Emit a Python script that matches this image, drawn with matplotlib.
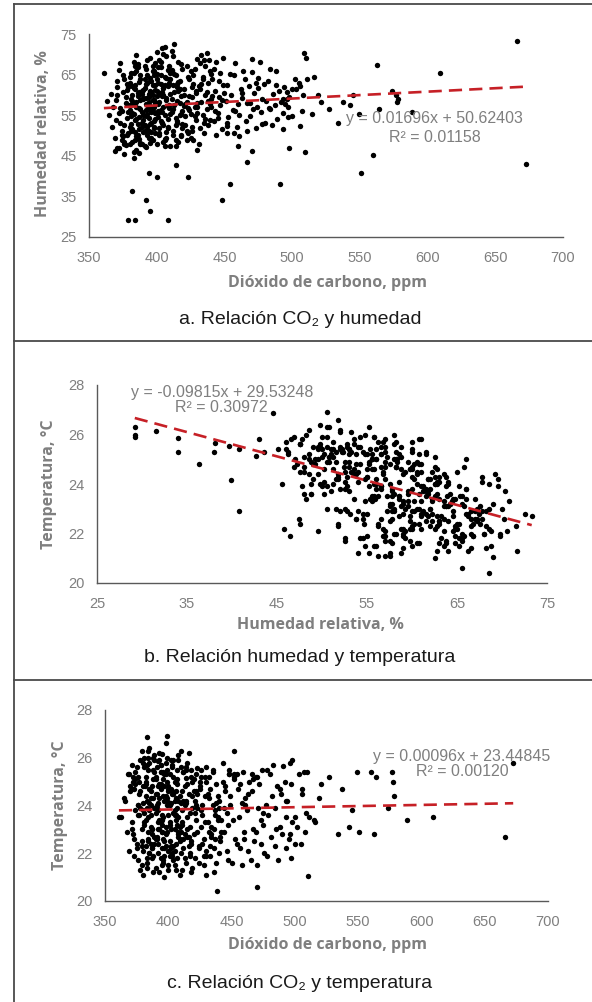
import numpy as np
import matplotlib
matplotlib.use('Agg')
import matplotlib.pyplot as plt
from matplotlib.lines import Line2D

W, H = 592, 1002

# sparse points (outliers, low humidity, high CO2): co2 ppm, humidity %, temperature C
co2_sparse = [379, 384, 408, 395, 392, 448, 381.5, 454, 491, 423,
              400, 394, 414, 466.5, 383, 387, 430, 460, 470, 371,
              452, 452, 493, 438.7, 470, 361, 406,
              496, 497, 498, 500, 500, 502, 503, 505, 505.6, 506,
              507, 508, 508.5, 509.5, 510, 511, 515, 516, 519, 521,
              527, 534, 537.5, 543, 545, 549, 551, 560, 562.5, 564.5,
              573.5, 576.5, 577.5, 578, 588.5, 609, 666, 672.5]
hum_sparse = [29.2, 29.2, 29.2, 31.5, 34.0, 34.0, 36.3, 38.0, 38.1, 39.7,
              39.9, 40.8, 42.7, 43.5, 44.5, 45.8, 46.4, 47.4, 46.2, 46.9,
              52.3, 50.6, 51.5, 68.6, 65.6, 65.3, 71.7,
              59.0, 57.0, 46.9, 61.5, 54.7, 64.0, 61.5, 63.0, 52.4, 62.2,
              56.0, 60.0, 70.3, 46.0, 69.0, 63.9, 55.3, 64.4, 60.0, 58.3,
              56.6, 53.1, 58.2, 57.5, 60.0, 55.3, 40.8, 45.1, 67.4, 56.6,
              61.0, 60.0, 58.3, 59.0, 55.9, 65.5, 73.3, 43.0]
temp_sparse = [26.3, 26.0, 25.9, 26.15, 25.85, 25.3, 24.8, 25.3, 25.65, 25.55,
               24.15, 25.4, 25.15, 25.3, 26.85, 22.2, 21.9, 22.6, 25.2, 24.7,
               25.3, 26.3, 24.2, 20.4, 20.6, 23.5, 21.3,
               22.8, 24.9, 25.9, 23.5, 22.4, 23.1, 25.3, 22.4, 24.7, 24.5,
               25.4, 22.9, 23.7, 25.4, 21.05, 23.5, 23.4, 23.3, 24.3, 24.9,
               25.2, 22.8, 24.7, 23.1, 23.8, 25.4, 22.9, 25.4, 22.8, 25.2,
               23.9, 25.4, 25.0, 24.4, 23.4, 23.5, 22.7, 25.8]

# main cluster, read band by band along CO2
co2_dense = [
    363, 366, 368, 369, 370, 371, 372, 372, 373, 374,
    374, 375, 375, 376, 376, 377, 377, 378, 378, 379,
    365, 367, 370, 371, 373, 374, 375, 376, 378, 379,
    369, 372, 373, 376, 377, 379, 380, 380, 371, 374,
    380, 381, 381, 382, 382, 383, 383, 384, 384, 385,
    385, 385, 386, 386, 387, 387, 388, 388, 389, 389,
    380, 381, 382, 383, 384, 385, 386, 387, 388, 389,
    381, 382, 383, 384, 385, 386, 387, 388, 389, 390,
    380, 382, 384, 386, 388, 383, 385, 387, 389, 381,
    390, 391, 391, 392, 392, 393, 393, 394, 394, 395,
    395, 395, 396, 396, 397, 397, 398, 398, 399, 399,
    390, 391, 392, 393, 394, 395, 396, 397, 398, 399,
    391, 392, 393, 394, 396, 397, 398, 399, 400, 400,
    390, 392, 394, 396, 398, 391, 393, 395, 397, 399,
    390, 393, 395, 398, 400, 392, 394, 396, 397, 399,
    400, 401, 401, 402, 402, 403, 403, 404, 404, 405,
    405, 405, 406, 406, 407, 407, 408, 408, 409, 409,
    400, 401, 402, 403, 404, 405, 406, 407, 408, 409,
    401, 402, 403, 404, 406, 407, 408, 410, 410, 405,
    400, 402, 404, 406, 408, 401, 403, 405, 407, 409,
    410, 411, 411, 412, 412, 413, 413, 414, 414, 415,
    415, 416, 416, 417, 417, 418, 418, 419, 419, 420,
    410, 411, 412, 413, 414, 415, 416, 417, 418, 419,
    411, 413, 415, 417, 419, 412, 414, 416, 418, 420,
    420, 421, 422, 422, 423, 424, 424, 425, 426, 426,
    427, 427, 428, 428, 429, 429, 430, 421, 423, 425,
    422, 424, 426, 428, 430, 425, 427, 429, 421, 423,
    430, 431, 432, 433, 433, 434, 435, 436, 436, 437,
    437, 438, 438, 439, 439, 440, 431, 432, 434, 435,
    433, 436, 438, 440, 432, 435, 437, 439, 430, 434,
    440, 441, 442, 443, 444, 445, 446, 447, 448, 449,
    441, 443, 444, 446, 447, 449, 450, 442, 445, 448,
    451, 452, 453, 455, 456, 457, 458, 459, 460, 461,
    462, 463, 464, 465, 466, 467, 468, 469, 470, 471,
    472, 473, 474, 475, 476, 477, 478, 479, 480, 481,
    482, 483, 484, 485, 486, 487, 488, 489, 490, 492,
    493, 494, 495, 496, 497, 498, 454, 461, 467, 475,
    452, 458, 463, 469, 473, 478, 484, 488, 493, 457,
    # extra: dry-warm and humid-cool parts of the cluster
    376, 378, 380, 382, 384, 386, 388, 390, 392, 394,
    396, 398, 400, 402, 404, 406, 408, 410, 412, 414,
    379, 383, 387, 391, 395, 399, 403, 407, 411, 415,
    418, 422, 426, 385, 389, 393, 397, 401, 405, 409]
hum_dense = [
    58.5, 60.2, 57.0, 49.5, 53.8, 62.0, 55.5, 47.0, 67.8, 51.2,
    56.0, 60.8, 49.8, 64.0, 52.5, 59.5, 47.6, 54.2, 62.8, 50.5,
    55.0, 52.0, 58.8, 63.5, 56.8, 50.0, 65.0, 45.5, 61.2, 57.6,
    46.2, 66.2, 53.0, 48.0, 58.0, 55.8, 63.0, 52.0, 60.0, 48.8,
    57.5, 52.8, 65.5, 48.5, 60.0, 55.2, 68.2, 50.8, 62.5, 58.2,
    46.5, 54.0, 66.8, 59.8, 51.5, 63.2, 56.5, 48.0, 61.0, 53.2,
    64.5, 59.0, 55.5, 61.8, 53.8, 57.0, 67.5, 49.2, 58.8, 55.8,
    51.0, 62.2, 57.8, 67.0, 49.8, 60.5, 54.5, 64.8, 52.2, 59.2,
    56.2, 58.5, 61.5, 50.2, 63.8, 46.0, 66.0, 56.8, 47.8, 54.8,
    55.0, 61.8, 52.5, 66.5, 57.8, 50.0, 63.0, 54.2, 59.5, 48.2,
    57.2, 64.2, 53.0, 60.8, 56.0, 67.2, 51.8, 58.8, 62.5, 55.5,
    59.0, 47.5, 54.8, 68.5, 56.5, 61.0, 50.8, 65.8, 53.5, 58.0,
    63.8, 56.2, 52.0, 60.2, 57.0, 49.0, 66.0, 54.0, 70.5, 59.8,
    53.8, 62.8, 58.2, 55.8, 64.8, 51.2, 57.5, 69.0, 60.0, 50.5,
    61.2, 55.2, 52.8, 57.0, 65.2, 59.2, 49.5, 63.5, 62.5, 67.8,
    58.0, 54.5, 63.0, 50.2, 60.5, 66.8, 56.2, 71.5, 53.0, 61.8,
    57.0, 48.5, 64.5, 55.0, 59.2, 69.5, 52.0, 62.2, 56.8, 67.0,
    61.0, 57.8, 51.8, 65.0, 55.8, 60.0, 48.8, 58.8, 54.0, 63.8,
    56.0, 68.5, 53.5, 59.8, 62.5, 50.8, 57.2, 65.5, 55.2, 52.5,
    64.0, 58.2, 60.8, 47.5, 66.2, 55.5, 62.8, 70.0, 49.5, 57.5,
    60.2, 55.8, 66.0, 51.0, 62.5, 72.5, 57.5, 49.0, 64.8, 58.5,
    53.5, 68.2, 61.0, 55.0, 63.5, 50.2, 59.8, 66.5, 52.8, 57.2,
    64.0, 70.8, 56.5, 60.8, 54.2, 62.0, 48.5, 58.0, 67.5, 51.8,
    59.0, 65.2, 53.0, 61.5, 56.0, 69.5, 47.5, 63.2, 55.2, 60.0,
    61.5, 54.8, 67.0, 58.2, 50.5, 63.8, 56.2, 65.8, 52.0, 59.5,
    62.8, 48.8, 57.0, 66.5, 53.8, 60.5, 68.8, 57.8, 64.5, 55.2,
    51.2, 59.8, 62.0, 54.8, 58.0, 49.5, 65.0, 61.0, 52.5, 56.8,
    55.5, 62.2, 51.8, 69.8, 58.2, 64.5, 53.0, 67.2, 60.0, 56.5,
    70.2, 52.5, 63.0, 57.8, 66.0, 59.0, 48.0, 61.5, 55.0, 68.5,
    62.8, 54.0, 58.5, 65.2, 67.8, 50.5, 60.8, 53.8, 57.0, 63.8,
    57.0, 64.0, 53.5, 61.0, 68.2, 55.5, 59.5, 65.5, 51.5, 62.5,
    59.8, 56.0, 50.0, 63.5, 57.5, 69.2, 60.5, 66.5, 54.2, 58.8,
    58.5, 62.5, 54.5, 60.0, 56.2, 64.8, 67.8, 52.0, 57.8, 55.0,
    61.5, 59.2, 66.0, 63.8, 53.5, 58.0, 62.2, 54.8, 68.8, 56.5,
    60.5, 51.8, 57.0, 64.2, 68.0, 55.8, 59.0, 62.8, 53.2, 58.5,
    63.5, 56.8, 66.5, 52.5, 60.2, 57.5, 65.8, 54.0, 61.0, 58.2,
    55.5, 62.0, 57.8, 60.8, 54.5, 59.5, 65.2, 49.8, 51.2, 61.8,
    53.0, 56.0, 60.5, 58.0, 63.0, 52.8, 56.5, 62.5, 59.0, 50.5,
    48.5, 50.2, 47.8, 51.5, 49.0, 52.8, 48.2, 50.8, 47.2, 51.2,
    49.5, 52.2, 48.0, 50.5, 53.2, 49.2, 51.8, 47.5, 50.0, 52.5,
    62.0, 65.5, 60.8, 67.2, 63.5, 61.2, 68.0, 64.2, 66.2, 62.8,
    49.8, 48.8, 51.0, 69.8, 60.2, 64.8, 58.8, 66.8, 61.8, 63.0]
temp_dense = [
    23.5, 24.2, 25.3, 22.1, 24.8, 23.0, 25.2, 25.0, 22.6, 25.4,
    23.8, 22.4, 25.6, 24.0, 21.7, 23.6, 24.5, 25.9, 21.3, 23.0,
    24.3, 22.9, 24.6, 23.3, 21.9, 25.1, 22.2, 24.0, 23.9, 22.5,
    25.3, 22.8, 24.7, 23.6, 25.0, 21.5, 24.1, 23.8, 25.7, 24.9,
    24.8, 25.6, 23.2, 24.4, 22.3, 23.9, 21.4, 26.3, 23.5, 22.0,
    25.8, 24.1, 22.4, 24.6, 23.0, 21.8, 25.5, 25.1, 22.7, 26.1,
    22.1, 23.3, 25.0, 24.2, 22.6, 24.7, 23.1, 24.8, 21.2, 25.9,
    23.7, 23.4, 21.6, 22.9, 26.4, 24.0, 22.8, 21.9, 25.4, 24.5,
    21.1, 25.2, 22.5, 23.6, 24.3, 25.7, 23.8, 22.2, 23.9, 26.0,
    25.2, 22.7, 24.5, 22.0, 23.8, 25.9, 24.3, 21.8, 24.9, 23.4,
    22.9, 23.6, 25.4, 21.6, 24.2, 22.5, 26.6, 23.1, 24.0, 25.0,
    21.4, 25.6, 23.3, 23.0, 24.7, 22.2, 25.1, 21.9, 24.4, 26.0,
    23.9, 22.4, 26.2, 23.3, 21.7, 24.8, 22.8, 25.5, 22.1, 24.6,
    22.6, 24.1, 25.7, 23.5, 22.3, 24.0, 21.2, 23.2, 25.3, 26.9,
    23.7, 24.9, 22.9, 25.8, 21.5, 23.0, 25.4, 22.6, 21.0, 24.3,
    23.6, 25.3, 22.5, 24.1, 23.0, 21.9, 25.7, 22.3, 23.7, 24.2,
    22.1, 25.0, 23.4, 24.6, 21.8, 23.9, 26.1, 22.8, 24.4, 22.6,
    24.8, 23.2, 22.3, 24.5, 25.9, 21.5, 23.6, 25.1, 22.9, 23.1,
    24.0, 22.2, 25.6, 21.7, 24.3, 24.9, 23.5, 22.0, 26.3, 23.8,
    21.3, 24.7, 25.2, 22.4, 22.7, 23.3, 24.6, 23.0, 25.5, 21.1,
    22.9, 24.6, 23.8, 25.4, 22.2, 22.8, 24.0, 24.2, 21.6, 23.5,
    25.8, 22.3, 24.5, 21.9, 23.1, 25.2, 22.5, 21.4, 23.9, 25.1,
    24.1, 23.3, 22.6, 24.8, 25.5, 23.0, 26.2, 22.0, 22.4, 24.4,
    23.2, 21.8, 24.9, 23.7, 25.0, 24.2, 25.6, 22.7, 21.2, 24.6,
    22.8, 24.2, 23.4, 25.3, 23.9, 21.6, 22.3, 24.7, 25.5, 23.1,
    24.0, 23.6, 21.9, 22.6, 25.2, 24.4, 22.1, 23.7, 22.9, 24.8,
    24.6, 22.2, 23.8, 21.5, 25.6, 25.0, 22.4, 23.3, 21.8, 24.5,
    25.0, 23.3, 24.3, 21.9, 24.7, 22.7, 25.4, 23.0, 22.2, 23.8,
    22.6, 24.9, 21.6, 23.5, 23.4, 22.0, 24.5, 25.2, 22.8, 24.0,
    22.3, 21.2, 24.1, 23.9, 22.9, 25.5, 23.6, 24.4, 21.1, 23.1,
    24.2, 22.5, 23.4, 25.8, 22.9, 24.6, 23.7, 21.7, 25.3, 24.0,
    22.7, 25.0, 23.9, 22.1, 23.2, 24.4, 21.6, 22.9, 24.8, 25.5,
    23.4, 25.1, 22.6, 24.7, 23.5, 22.2, 24.1, 25.4, 22.9, 24.3,
    23.8, 22.1, 25.0, 21.7, 24.6, 23.0, 22.5, 25.2, 21.5, 23.9,
    24.9, 22.4, 25.5, 23.2, 22.0, 24.0, 21.9, 23.6, 25.3, 22.7,
    24.4, 25.7, 22.3, 23.0, 24.8, 21.7, 23.1, 24.5, 22.8, 25.0,
    23.5, 24.2, 22.6, 25.8, 21.8, 23.3, 22.4, 24.0, 25.1, 23.7,
    25.2, 21.5, 24.5, 22.9, 23.4, 25.5, 23.9, 24.7, 22.2, 24.9,
    25.2, 24.6, 25.8, 24.9, 25.5, 24.3, 26.0, 25.1, 24.8, 25.7,
    24.4, 25.3, 24.7, 25.9, 24.5, 25.0, 24.2, 25.6, 25.4, 24.1,
    22.3, 21.8, 23.0, 22.6, 21.5, 22.9, 22.0, 23.2, 21.3, 22.7,
    25.5, 24.0, 25.2, 22.0, 22.4, 23.4, 22.2, 21.9, 23.6, 22.5]

co2 = np.array(co2_sparse + co2_dense)
hum = np.array(hum_sparse + hum_dense)
temp = np.array(temp_sparse + temp_dense)

# Excel trendlines printed on the chart (slope, intercept, R2)
trend_a = (0.01696, 50.62403, '0.01158')
trend_b = (-0.09815, 29.53248, '0.30972')
trend_c = (0.00096, 23.44845, '0.00120')

captions = ['a. Relación CO\u2082 y humedad',
            'b. Relación humedad y temperatura',
            'c. Relación CO\u2082 y temperatura']

GRAY = '#7f7f7f'
RED = '#c62026'
TICKFONT = ['Liberation Sans', 'DejaVu Sans']
LABFONT = ['Open Sans', 'DejaVu Sans']

fig = plt.figure(figsize=(W / 100, H / 100), dpi=100)


def px_axes(l, t, r, b):
    return fig.add_axes([l / W, 1 - b / H, (r - l) / W, (b - t) / H])


def ftext(x, y, s, **kw):
    fig.text(x / W, 1 - y / H, s, ha='center', va='center', **kw)


def panel(ax, x, y, trend, xlim, xticks, ylim, yticks):
    ax.scatter(x, y, s=15, c='black', linewidths=0, zorder=2)
    xs = np.array([x.min(), x.max()])
    ax.plot(xs, trend[0] * xs + trend[1], color=RED, lw=1.9,
            dashes=(5, 2.7), zorder=3)
    ax.set_xlim(*xlim)
    ax.set_ylim(*ylim)
    ax.set_xticks(xticks)
    ax.set_yticks(yticks)
    for s in ['top', 'right']:
        ax.spines[s].set_visible(False)
    for s in ['left', 'bottom']:
        ax.spines[s].set_color('#595959')
        ax.spines[s].set_linewidth(1.0)
    ax.tick_params(length=0, labelsize=10.5, labelcolor=GRAY)
    ax.tick_params(axis='x', pad=10)
    ax.tick_params(axis='y', pad=9)
    for lab in ax.get_xticklabels() + ax.get_yticklabels():
        lab.set_family(TICKFONT)


def eq_text(trend):
    sign = '+' if trend[1] >= 0 else '-'
    return 'y = %.5fx %s %.5f' % (trend[0], sign, abs(trend[1]))


EQ = dict(fontsize=11.5, color=GRAY, family=TICKFONT)
LAB = dict(fontsize=11.5, color=GRAY, fontweight='bold', family=LABFONT)
CAP = dict(fontsize=14, color='#1a1a1a', family=TICKFONT)

# a. CO2 vs humidity
ax1 = px_axes(89, 34, 563, 237)
panel(ax1, co2, hum, trend_a, (350, 700), range(350, 701, 50),
      (25, 75), range(25, 76, 10))
ftext(434, 119, eq_text(trend_a), **EQ)
ftext(435, 137, 'R\u00b2 = ' + trend_a[2], **EQ)
ftext(327, 283, 'Dióxido de carbono, ppm', **LAB)
ftext(43, 134, 'Humedad relativa, %', rotation=90, **LAB)
ftext(300, 319, captions[0], **CAP)

# b. humidity vs temperature
ax2 = px_axes(97, 385, 547, 583)
panel(ax2, hum, temp, trend_b, (25, 75), range(25, 76, 10),
      (20, 28), range(20, 29, 2))
ftext(222, 392, eq_text(trend_b), **EQ)
ftext(221, 408, 'R\u00b2 = ' + trend_b[2], **EQ)
ftext(320, 625, 'Humedad relativa, %', **LAB)
ftext(49, 484, 'Temperatura, °C', rotation=90, **LAB)
ftext(300, 658, captions[1], **CAP)

# c. CO2 vs temperature
ax3 = px_axes(105, 710, 548, 901)
panel(ax3, co2, temp, trend_c, (350, 700), range(350, 701, 50),
      (20, 28), range(20, 29, 2))
ftext(462, 756, eq_text(trend_c), **EQ)
ftext(462, 772, 'R\u00b2 = ' + trend_c[2], **EQ)
ftext(328, 945, 'Dióxido de carbono, ppm', **LAB)
ftext(60, 805, 'Temperatura, °C', rotation=90, **LAB)
ftext(300, 983, captions[2], **CAP)

# table borders around the three panels
for y in [3.5, 341, 680]:
    fig.add_artist(Line2D([14 / W, 1], [1 - y / H, 1 - y / H],
                          color='#4a4a4a', lw=1.3))
fig.add_artist(Line2D([14 / W, 14 / W], [1 - 3.5 / H, 0], color='#4a4a4a', lw=1.3))

fig.savefig('out.png', dpi=100)
